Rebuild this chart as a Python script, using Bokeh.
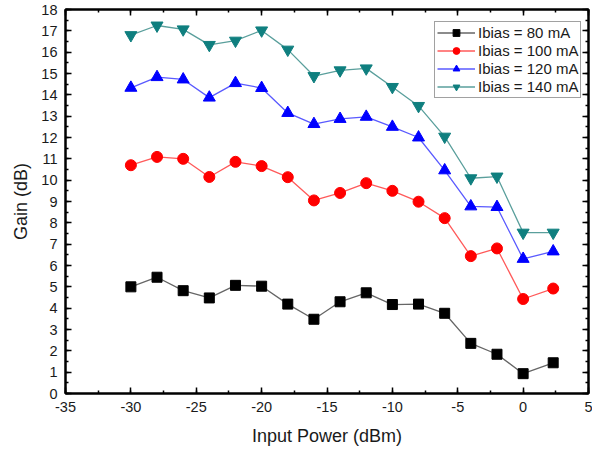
from bokeh.plotting import figure
from bokeh.models import (LinearAxis, Range1d, SingleIntervalTicker, Legend, LegendItem,
                          CustomLabelingPolicy, PrintfTickFormatter)
from bokeh.embed import file_html
from bokeh.resources import INLINE

x = [-30, -28, -26, -24, -22, -20, -18, -16, -14, -12, -10, -8, -6, -4, -2, 0, 2.3]
g80 = [5.0, 5.45, 4.82, 4.48, 5.07, 5.03, 4.19, 3.48, 4.3, 4.72, 4.17, 4.19, 3.76, 2.35, 1.84, 0.93, 1.44]
g100 = [10.7, 11.09, 11.0, 10.15, 10.86, 10.66, 10.14, 9.05, 9.4, 9.86, 9.5, 8.99, 8.22, 6.44, 6.8, 4.43, 4.92]
g120 = [14.33, 14.83, 14.72, 13.87, 14.55, 14.32, 13.15, 12.63, 12.87, 12.97, 12.5, 12.0, 10.46, 8.77, 8.74, 6.31, 6.66]
g140 = [16.8, 17.25, 17.07, 16.34, 16.54, 17.02, 16.12, 14.88, 15.15, 15.24, 14.37, 13.48, 12.04, 10.09, 10.17, 7.54, 7.54]
labels = ["Ibias = 80 mA", "Ibias = 100 mA", "Ibias = 120 mA", "Ibias = 140 mA"]

FONT = "Liberation Sans"

p = figure(width=592, height=452, output_backend="svg", toolbar_location=None,
           x_range=Range1d(-35, 5), y_range=Range1d(0, 18),
           min_border_left=65, min_border_right=4, min_border_top=9, min_border_bottom=59)
p.grid.visible = False
p.background_fill_color = "white"
p.border_fill_color = "white"
p.outline_line_color = "black"
p.outline_line_width = 2

no_labels = CustomLabelingPolicy(
    code="for (const i of Array.from(indices.ones())) indices.unset(i); return indices;")

def style_axis(ax, show_labels=True):
    ax.axis_line_width = 2
    ax.axis_line_color = "black"
    ax.major_tick_in = 6
    ax.major_tick_out = 0
    ax.minor_tick_in = 3
    ax.minor_tick_out = 0
    ax.major_tick_line_width = 1.5
    ax.minor_tick_line_width = 1.5
    ax.major_tick_line_color = "black"
    ax.minor_tick_line_color = "black"
    ax.major_label_text_font = FONT
    ax.major_label_text_font_size = "14.5px"
    ax.major_label_text_color = "#1a1a1a"
    ax.major_label_standoff = 8
    if not show_labels:
        ax.major_label_policy = no_labels
        ax.major_label_text_font_size = "0px"
        ax.major_label_standoff = 0

xt = SingleIntervalTicker(interval=5, num_minor_ticks=2)
yt = SingleIntervalTicker(interval=1, num_minor_ticks=2)
p.xaxis.ticker = xt
p.yaxis.ticker = yt
p.xaxis.formatter = PrintfTickFormatter(format="%d")
p.yaxis.formatter = PrintfTickFormatter(format="%d")
style_axis(p.xaxis[0])
style_axis(p.yaxis[0])
p.xaxis.axis_label = "Input Power (dBm)"
p.yaxis.axis_label = "Gain (dB)"
for ax in (p.xaxis[0], p.yaxis[0]):
    ax.axis_label_text_font = FONT
    ax.axis_label_text_font_size = "18px"
    ax.axis_label_text_font_style = "normal"
    ax.axis_label_text_color = "#1a1a1a"
p.xaxis.axis_label_standoff = 11
p.yaxis.axis_label_standoff = 7

top = LinearAxis(ticker=SingleIntervalTicker(interval=5, num_minor_ticks=2))
right = LinearAxis(ticker=SingleIntervalTicker(interval=1, num_minor_ticks=2))
style_axis(top, False)
style_axis(right, False)
p.add_layout(top, "above")
p.add_layout(right, "right")

series = [
    (g80, "#000000", "#666666", "square", 10),
    (g100, "#ff0000", "#ff5a5a", "circle", 11),
    (g120, "#0000ff", "#5a5aff", "triangle", 12),
    (g140, "#0f7f7f", "#5a9f9c", "inverted_triangle", 12),
]
items = []
for (ys, mc, lc, mk, sz), lab in zip(series, labels):
    l = p.line(x, ys, line_color=lc, line_width=1.3)
    s = p.scatter(x, ys, marker=mk, size=sz, fill_color=mc, line_color=mc)
    items.append(LegendItem(label=lab, renderers=[l, s]))

leg = Legend(items=items, location=(369, 295))
leg.label_text_font = FONT
leg.label_text_font_size = "15px"
leg.label_text_color = "#1a1a1a"
leg.glyph_width = 38
leg.glyph_height = 17
leg.label_height = 17
leg.label_standoff = 3
leg.spacing = 1
leg.padding = 2
leg.margin = 0
leg.border_line_color = "#444444"
leg.border_line_width = 1.5
leg.background_fill_alpha = 1
p.add_layout(leg, "center")

open("out.html", "w").write(file_html(p, INLINE))
